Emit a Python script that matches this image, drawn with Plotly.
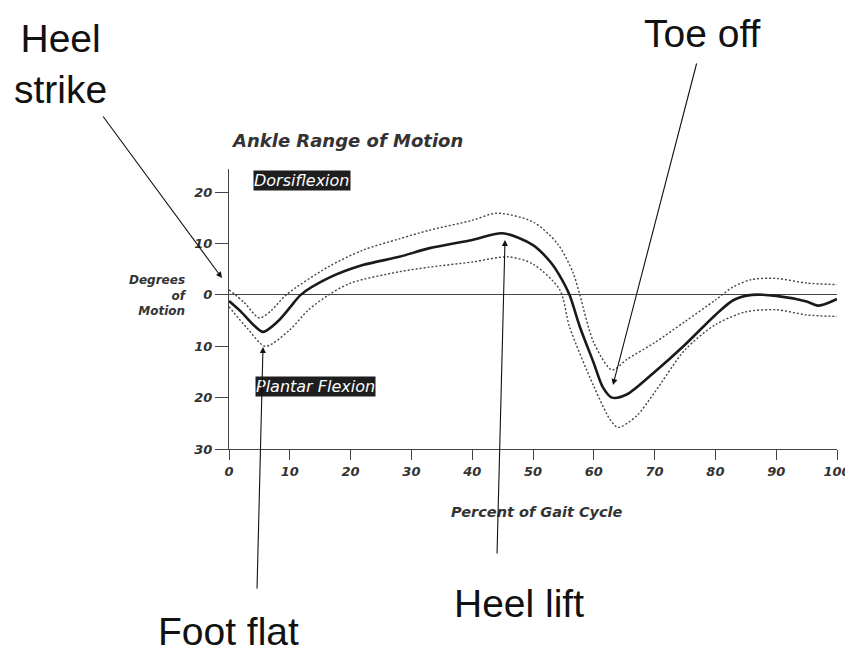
import plotly.graph_objects as go

# Percent of gait cycle / ankle angle (deg, + dorsiflexion, - plantar flexion)
mean_x = [0, 2, 4, 5.6, 8, 10, 11.8, 16.4, 22, 28, 33, 40, 45, 50, 53, 54.5, 56, 57.7, 60, 61.5, 63, 65.4, 70, 75, 80, 83, 86, 90, 95, 97, 100]
mean_y = [-1.2, -3.3, -5.8, -7.2, -5.2, -2.5, 0, 3.3, 5.8, 7.4, 9.1, 10.7, 12, 9.7, 6.2, 3.5, 0, -6.2, -13.3, -18, -20, -19.4, -15, -9.7, -3.9, -1, 0, -0.2, -1.3, -2.1, -0.8]

upper_x = [0, 2.5, 5, 7, 9.4, 16.4, 22, 28, 33, 40, 44, 50, 54, 56.6, 57.7, 60, 63, 65.4, 70, 75, 80, 83, 86, 90, 95, 100]
upper_y = [1, -1.5, -4.5, -3, 0, 5.5, 8.7, 10.9, 12.6, 14.5, 15.9, 14.2, 10, 4.3, 0, -9.3, -14.6, -12.6, -9.3, -5.2, -1, 1.6, 3, 3.2, 2.3, 2]

lower_x = [0, 3, 6, 10, 13, 16.4, 20, 28, 33, 40, 46, 50, 54.4, 56, 60, 62.7, 64, 67, 70, 75, 80, 85, 90, 95, 100]
lower_y = [-2.3, -6.5, -10, -6.8, -3, 0, 2.3, 4.5, 5.4, 6.4, 7.4, 6, 1, -6.2, -17.8, -24.3, -25.8, -23.6, -19, -10.7, -5.8, -3.3, -2.9, -3.9, -4.2]

x_ticks = [0, 10, 20, 30, 40, 50, 60, 70, 80, 90, 100]
y_ticks = [20, 10, 0, -10, -20, -30]
y_tick_text = ["20", "10", "0", "10", "20", "30"]

BIG = "Liberation Sans, Arial, sans-serif"
SMALL = "DejaVu Sans, sans-serif"
tickf = dict(family=SMALL, size=13, color="#333", weight="bold", style="italic")

fig = go.Figure()
for xs, ys in ((upper_x, upper_y), (lower_x, lower_y)):
    fig.add_trace(go.Scatter(x=xs, y=ys, mode="lines",
                             line=dict(color="#444", width=1.4, dash="2px,2px", shape="spline", smoothing=0.8)))
fig.add_trace(go.Scatter(x=mean_x, y=mean_y, mode="lines",
                         line=dict(color="#1a1a1a", width=2.6, shape="spline", smoothing=0.8)))

OFF = 8  # page body margin
W, H = 853 - OFF, 655 - OFF
L, T = 229 - OFF, 169 - OFF
pw, ph = 608, 280
R, B = W - L - pw, H - T - ph

def px(x):
    return (x - OFF - L) / pw

def py(y):
    return (T + ph - (y - OFF)) / ph

def label(xp, yp, text, font, **kw):
    d = dict(x=px(xp), y=py(yp), xref="paper", yref="paper", text=text, showarrow=False,
             xanchor="center", yanchor="middle", font=font)
    d.update(kw)
    return d

ann = []
ann.append(label(347, 141, "Ankle Range of Motion",
                 dict(family=SMALL, size=18, color="#333", weight="bold", style="italic")))
ann.append(label(189, 295, "Degrees<br>of<br>Motion",
                 dict(family=SMALL, size=12, color="#333", weight="bold", style="italic"),
                 xanchor="right", align="right"))
ann.append(label(537, 512, "Percent of Gait Cycle",
                 dict(family=SMALL, size=14.5, color="#333", weight="bold", style="italic")))
ann.append(label(302, 180, "Dorsiflexion",
                 dict(family=SMALL, size=16, color="white", style="italic"),
                 bgcolor="#1e1e1e", borderpad=0))
ann.append(label(315, 386, "Plantar Flexion",
                 dict(family=SMALL, size=16, color="white", style="italic"),
                 bgcolor="#1e1e1e", borderpad=0))
big = dict(family=BIG, size=39, color="#111")
ann.append(label(61, 64, "Heel<br>strike", big, align="center"))
ann.append(label(702, 33, "Toe off", big))
ann.append(label(228, 631, "Foot flat", big))
ann.append(label(519, 603, "Heel lift", big))

arrows = [((222, 278), (102, 115)), ((613, 385), (697, 62)), ((263, 347), (257, 590)), ((505, 240), (497, 555))]
for (tx, ty), (sx, sy) in arrows:
    ann.append(dict(x=px(tx), y=py(ty), xref="paper", yref="paper", text="", showarrow=True,
                    axref="pixel", ayref="pixel", ax=sx - tx, ay=sy - ty,
                    arrowhead=2, arrowsize=1.1, arrowwidth=1.1, arrowcolor="#111"))

fig.update_layout(
    width=W, height=H, autosize=False,
    margin=dict(l=L, r=R, t=T, b=B, autoexpand=False),
    paper_bgcolor="white", plot_bgcolor="white",
    showlegend=False,
    annotations=ann,
    xaxis=dict(range=[0, 100], tickvals=x_ticks, showgrid=False, zeroline=False, automargin=False,
               showline=True, linecolor="#444", linewidth=1.3, ticklabeloverflow="allow",
               ticks="outside", ticklen=10, tickcolor="#444", tickfont=tickf),
    yaxis=dict(range=[-30, 24.5], tickvals=y_ticks, ticktext=y_tick_text, showgrid=False,
               zeroline=True, zerolinecolor="#444", zerolinewidth=1.2, automargin=False,
               showline=True, linecolor="#444", linewidth=1.3,
               ticks="outside", ticklen=13, tickcolor="#444", tickfont=tickf),
)

fig.write_html("out.html")
